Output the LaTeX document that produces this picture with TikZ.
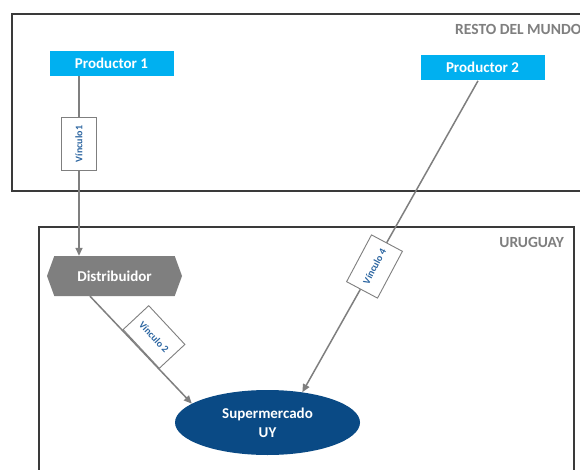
\documentclass[tikz,border=0pt]{standalone}
\usepackage{fontspec}
\setmainfont{Carlito}
\usetikzlibrary{shapes.geometric,shapes.symbols,arrows.meta}
\definecolor{cyanbox}{HTML}{00B0F0}
\definecolor{greybox}{HTML}{7F7F7F}
\definecolor{darkblue}{HTML}{0A4A85}
\definecolor{linkblue}{HTML}{2A64A0}
\definecolor{framecol}{HTML}{3A3A3A}
\tikzset{
  prodbox/.style={rectangle, fill=cyanbox, draw=white, line width=0.6pt, minimum width=125pt, minimum height=26pt, inner sep=0pt, text=white, font=\bfseries\fontsize{15}{17}\selectfont},
  region/.style={draw=framecol},
  regionlabel/.style={text=greybox, font=\bfseries\fontsize{15.5}{17}\selectfont, inner sep=0pt},
  arr/.style={draw=greybox, line width=1.5pt, -{Triangle[width=7pt,length=8pt]}},
  linkbox/.style={rectangle, fill=white, draw=greybox, line width=0.9pt, minimum width=53pt, minimum height=35pt, inner sep=0pt, text=linkblue, font=\bfseries\fontsize{10}{12}\selectfont},
}
\begin{document}
\begin{tikzpicture}[x=1pt,y=-1pt]
\clip (0,0) rectangle (580,470);
\fill[white] (0,0) rectangle (580,470);
% regions
\draw[region, line width=1.6pt] (12,14) rectangle (600,191);
\node[regionlabel, anchor=west] (rlab) at (455,29) {RESTO DEL MUNDO};
\draw[region, line width=1.2pt] (39,227) rectangle (574,490);
\node[regionlabel, anchor=east] (ulab) at (564,242) {URUGUAY};
% nodes
\node[prodbox] (p1) at (111.5,63) {Productor 1};
\node[prodbox] (p2) at (482.5,67.5) {Productor 2};
\node[signal, signal to=west and east, signal pointer angle=140, fill=greybox, minimum width=135pt, minimum height=40pt, inner sep=0pt, text=white, font=\bfseries\fontsize{15}{17}\selectfont] (d) at (114.5,276) {Distribuidor};
\node[ellipse, fill=darkblue, minimum width=185pt, minimum height=65pt, inner sep=0pt, text=white, align=center, font=\bfseries\fontsize{15}{19}\selectfont] (s) at (267.5,422.5) {Supermercado\\UY};
% connectors
\draw[arr] (p1.south -| 79,0) -- (d.north -| 79,0);
\draw[arr] (d.south -| 90,0) -- (s.166);
\draw[arr] (p2.south -| 478,0) -- (s.41);
% link labels
\node[linkbox, rotate=90] (v1) at (79,144) {Vínculo1};
\node[linkbox, rotate=-47] (v2) at (154,337) {Vínculo 2};
\node[linkbox, rotate=62] (v4) at (374.5,266.5) {Vínculo 4};
\end{tikzpicture}
\end{document}
